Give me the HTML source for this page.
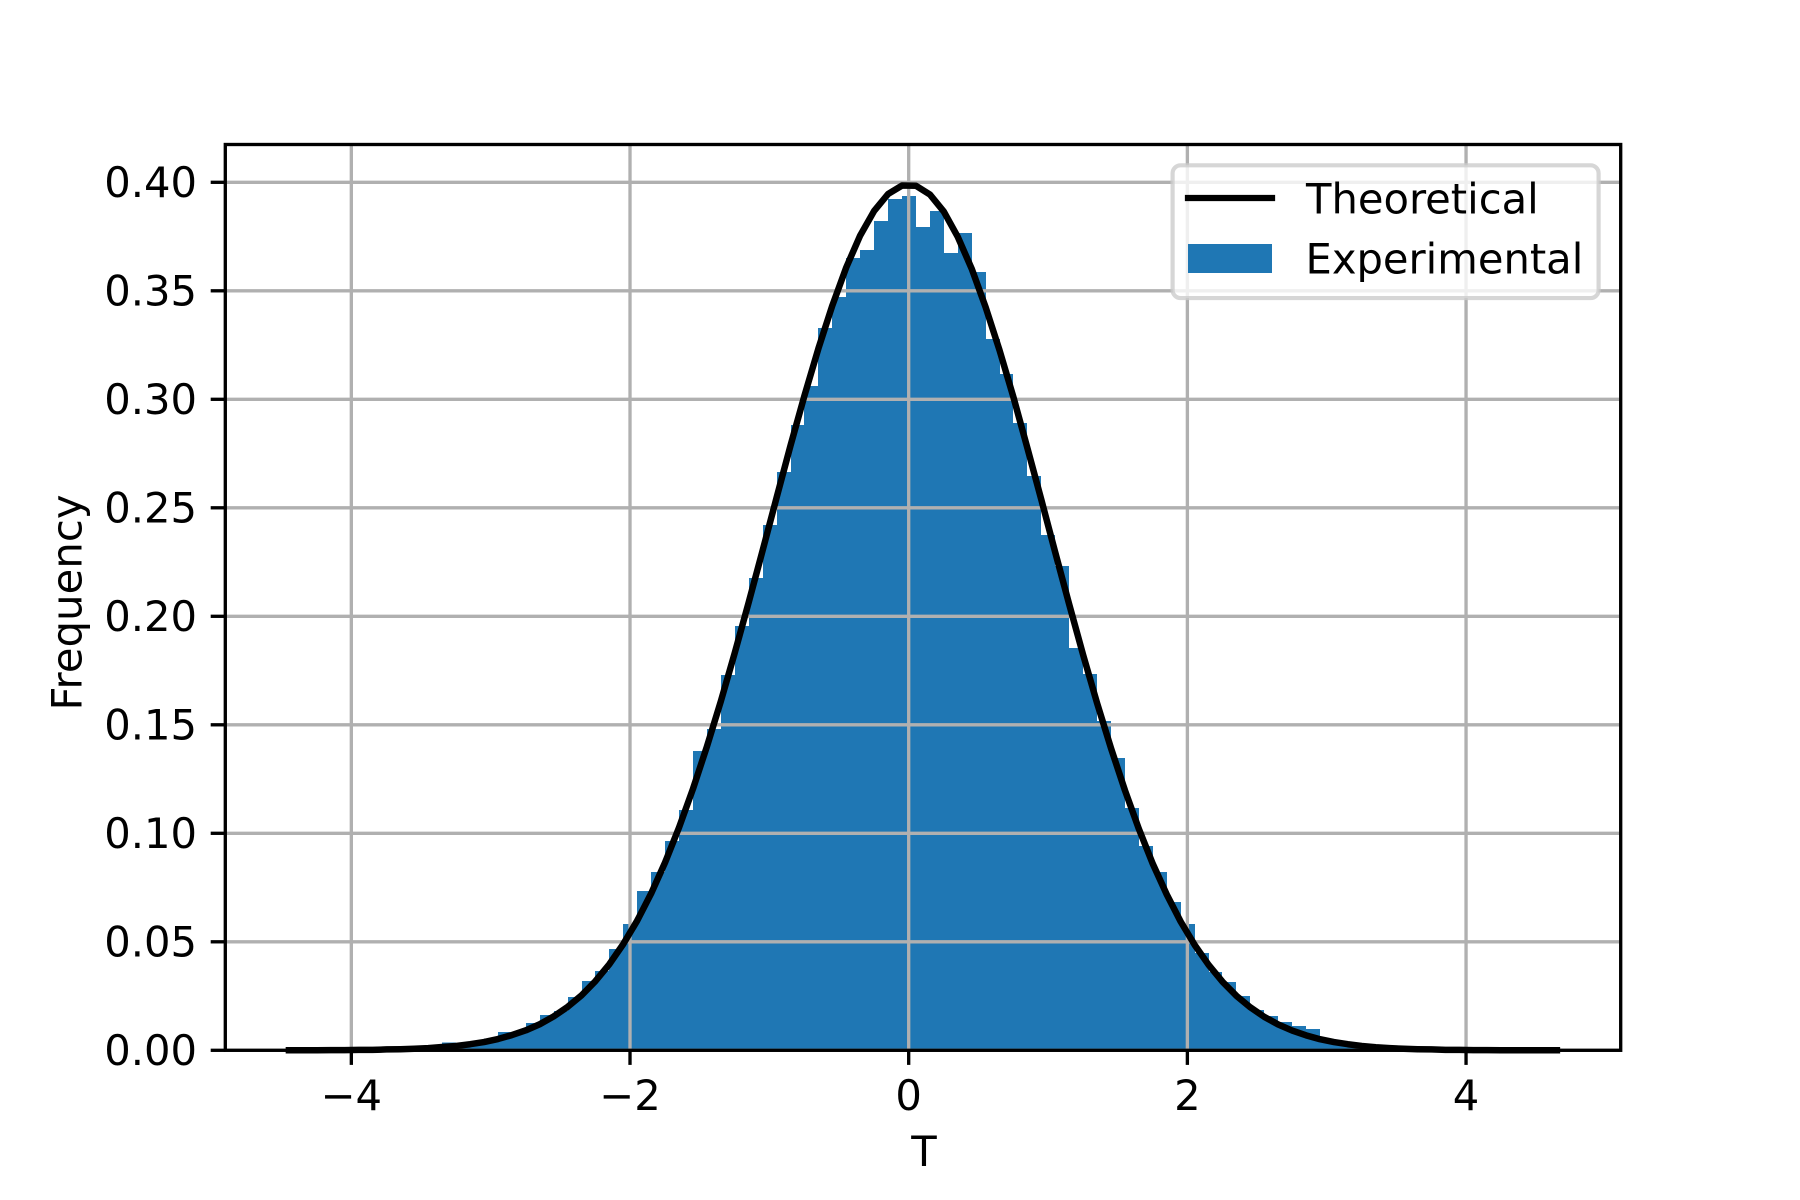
<!DOCTYPE html>
<html lang="en">
<head>
<meta charset="utf-8">
<title>T distribution: theoretical vs experimental</title>
<style>
  html, body { margin: 0; padding: 0; background: #fff; }
  svg { display: block; }
  text { font-family: "DejaVu Sans", "Liberation Sans", sans-serif; font-size: 41.67px; fill: #000; }
</style>
</head>
<body>
<svg id="chart" xmlns="http://www.w3.org/2000/svg" width="1800" height="1200" viewBox="0 0 1800 1200">
  <rect x="0" y="0" width="1800" height="1200" fill="#ffffff"/>
  <g id="bars" shape-rendering="crispEdges"></g>
  <g id="grid"></g>
  <path id="curve" fill="none" stroke="#000000" stroke-width="6.5" stroke-linejoin="round" stroke-linecap="square"></path>
  <g id="spines"></g>
  <g id="xticks"></g>
  <g id="yticks"></g>
  <text x="924" y="1166" text-anchor="middle">T</text>
  <text transform="translate(81.5 602.5) rotate(-90)" text-anchor="middle" textLength="216" lengthAdjust="spacing">Frequency</text>
  <g>
    <rect x="1172.6" y="165.3" width="426" height="132.8" rx="8" ry="8" fill="#ffffff" fill-opacity="0.8" stroke="#cccccc" stroke-opacity="0.8" stroke-width="4.17"/>
    <line x1="1188" y1="198" x2="1272" y2="198" stroke="#000000" stroke-width="6.25" stroke-linecap="square"/>
    <text x="1306" y="213.5">Theoretical</text>
    <rect x="1188" y="244" width="84" height="29" fill="#1f77b4" shape-rendering="crispEdges"/>
    <text x="1305.5" y="273.5">Experimental</text>
  </g>
</svg>
<script>
const binEdges = [-4.448,-4.348,-4.248,-4.148,-4.048,-3.948,-3.848,-3.748,-3.648,-3.548,-3.448,-3.348,-3.248,-3.148,-3.048,-2.948,-2.848,-2.748,-2.648,-2.548,-2.448,-2.348,-2.248,-2.148,-2.048,-1.948,-1.848,-1.748,-1.648,-1.548,-1.448,-1.348,-1.248,-1.148,-1.048,-0.948,-0.848,-0.748,-0.648,-0.548,-0.448,-0.348,-0.248,-0.148,-0.048,0.052,0.152,0.252,0.352,0.452,0.552,0.652,0.752,0.852,0.952,1.052,1.152,1.252,1.352,1.452,1.552,1.652,1.752,1.852,1.952,2.052,2.152,2.252,2.352,2.452,2.552,2.652,2.752,2.852,2.952,3.052,3.152,3.252,3.352,3.452,3.552,3.652,3.752,3.852,3.952,4.052,4.152,4.252,4.352,4.452,4.552,4.652];
const experimentalFrequency = [0.0001,0,0,0.0001,0.0001,0.0001,0.0002,0.0003,0.0005,0.0008,0.0012,0.0037,0.0028,0.0038,0.0055,0.0084,0.0085,0.0126,0.0163,0.0181,0.0246,0.0319,0.0365,0.0467,0.0582,0.0734,0.0822,0.0965,0.1107,0.1380,0.1481,0.1730,0.1955,0.2176,0.2421,0.2665,0.2882,0.3061,0.3329,0.3471,0.3651,0.3688,0.3822,0.3923,0.3936,0.3794,0.3868,0.3674,0.3766,0.3586,0.3278,0.3117,0.2891,0.2647,0.2375,0.2232,0.1854,0.1734,0.1517,0.1347,0.1117,0.0941,0.0822,0.0683,0.0582,0.0448,0.0361,0.0315,0.0250,0.0186,0.0158,0.0130,0.0112,0.0098,0.0050,0.0030,0.0022,0.0015,0.0012,0.0009,0.0006,0.0004,0.0003,0.0002,0.0002,0.0001,0.0001,0.0001,0,0,0];
const theoreticalFrequency = [0,0,0,0.0001,0.0001,0.0002,0.0002,0.0004,0.0005,0.0007,0.0010,0.0015,0.0020,0.0028,0.0038,0.0052,0.0070,0.0092,0.0120,0.0156,0.0200,0.0253,0.0319,0.0397,0.0490,0.0598,0.0723,0.0866,0.1027,0.1205,0.1400,0.1609,0.1832,0.2065,0.2304,0.2547,0.2787,0.3017,0.3234,0.3432,0.3608,0.3755,0.3868,0.3946,0.3985,0.3984,0.3944,0.3865,0.3749,0.3602,0.3425,0.3226,0.3009,0.2775,0.2537,0.2294,0.2055,0.1822,0.1600,0.1392,0.1198,0.1020,0.0859,0.0718,0.0593,0.0486,0.0394,0.0316,0.0251,0.0198,0.0154,0.0119,0.0091,0.0069,0.0051,0.0038,0.0028,0.0020,0.0014,0.0010,0.0007,0.0005,0.0004,0.0002,0.0002,0.0001,0.0001,0,0,0,0,0];
const xTickValues = [-4,-2,0,2,4];
const xTickLabels = ["\u22124","\u22122","0","2","4"];
const yTickValues = [0,0.05,0.10,0.15,0.20,0.25,0.30,0.35,0.40];
const yTickLabels = ["0.00","0.05","0.10","0.15","0.20","0.25","0.30","0.35","0.40"];

const NS = 'http://www.w3.org/2000/svg';
const plotLeft = 225.3, plotRight = 1620.7, plotTop = 144.5, plotBottom = 1050.3;
const xDomainMin = -4.9045, xDomainMax = 5.1099, yDomainMin = 0, yDomainMax = 0.41742;

function xScale(v) { return plotLeft + (v - xDomainMin) / (xDomainMax - xDomainMin) * (plotRight - plotLeft); }
function yScale(v) { return plotBottom - (v - yDomainMin) / (yDomainMax - yDomainMin) * (plotBottom - plotTop); }
function make(tag, attrs, parent) {
  const el = document.createElementNS(NS, tag);
  for (const k in attrs) el.setAttribute(k, attrs[k]);
  parent.appendChild(el);
  return el;
}

const barsGroup = document.getElementById('bars');
experimentalFrequency.forEach(function (value, i) {
  const x0 = Math.round(xScale(binEdges[i]));
  const x1 = Math.round(xScale(binEdges[i + 1]));
  const top = yScale(value);
  const bar = make('rect', { x: x0, y: top, width: x1 - x0, height: Math.max(0, plotBottom - top), fill: '#1f77b4' }, barsGroup);
  
  
});

const gridGroup = document.getElementById('grid');
xTickValues.forEach(function (value) {
  const x = xScale(value);
  const line = make('line', { x1: x, x2: x, y1: plotTop, y2: plotBottom, stroke: '#b0b0b0', 'stroke-width': 3.33 }, gridGroup);
  
  
});
yTickValues.forEach(function (value) {
  const y = yScale(value);
  const line = make('line', { x1: plotLeft, x2: plotRight, y1: y, y2: y, stroke: '#b0b0b0', 'stroke-width': 3.33 }, gridGroup);
  
  
});

document.getElementById('curve').setAttribute('d', theoreticalFrequency.map(function (value, i) {
  return (i === 0 ? 'M' : 'L') + xScale(binEdges[i]).toFixed(2) + ' ' + yScale(value).toFixed(2);
}).join(' '));

const spinesGroup = document.getElementById('spines');
const frame = make('rect', { x: plotLeft, y: plotTop, width: plotRight - plotLeft, height: plotBottom - plotTop, fill: 'none', stroke: '#000000', 'stroke-width': 3.33, 'stroke-linejoin': 'miter' }, spinesGroup);



const xTicksGroup = document.getElementById('xticks');
xTickValues.forEach(function (value, i) {
  const x = xScale(value);
  const tick = make('line', { x1: x, x2: x, y1: plotBottom, y2: plotBottom + 14.6, stroke: '#000000', 'stroke-width': 3.33 }, xTicksGroup);
  
  
  const label = make('text', { x: x, y: 1110, 'text-anchor': 'middle' }, xTicksGroup);
  label.textContent = xTickLabels[i];
  
  
});

const yTicksGroup = document.getElementById('yticks');
yTickValues.forEach(function (value, i) {
  const y = yScale(value);
  const tick = make('line', { x1: plotLeft - 14.6, x2: plotLeft, y1: y, y2: y, stroke: '#000000', 'stroke-width': 3.33 }, yTicksGroup);
  
  
  const label = make('text', { x: 197, y: y + 14.8, 'text-anchor': 'end' }, yTicksGroup);
  label.textContent = yTickLabels[i];
  
  
});
</script>
</body>
</html>
